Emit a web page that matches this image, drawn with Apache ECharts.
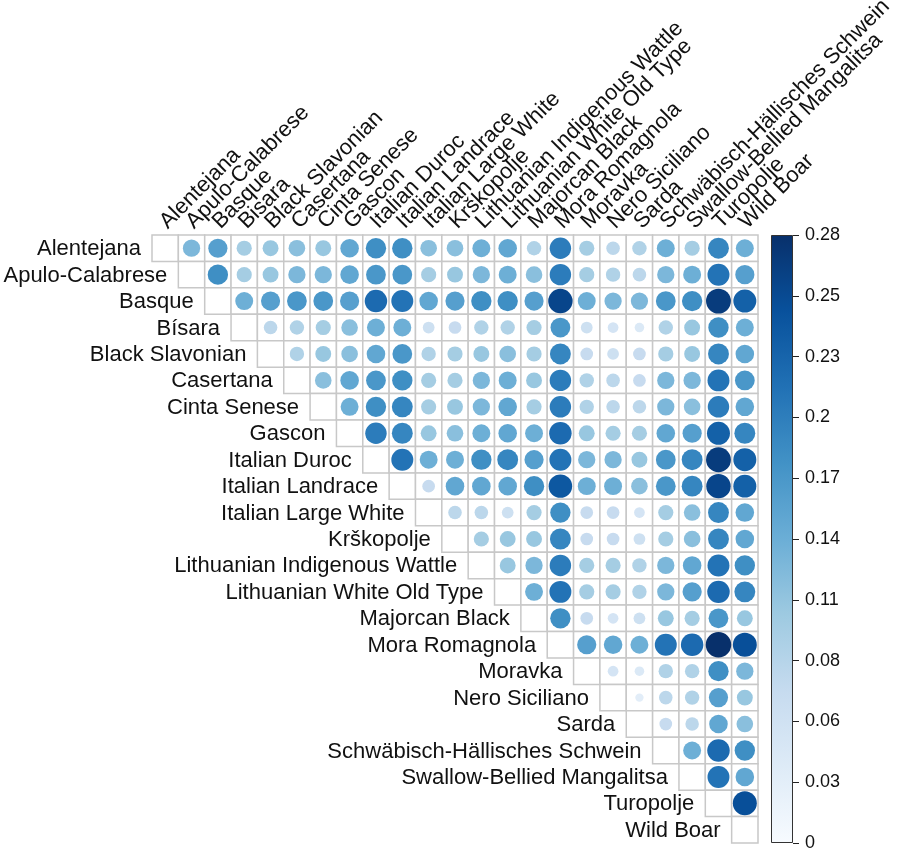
<!DOCTYPE html>
<html><head><meta charset="utf-8">
<script src="https://cdn.jsdelivr.net/npm/echarts@6/dist/echarts.min.js"></script>
<style>html,body{margin:0;padding:0;background:#fff}#c{width:898px;height:852px}</style>
</head><body><div id="c"></div>
<script>
const rowLabels = ['Alentejana','Apulo-Calabrese','Basque','Bísara','Black Slavonian','Casertana','Cinta Senese','Gascon','Italian Duroc','Italian Landrace','Italian Large White','Krs\u030Ckopolje','Lithuanian Indigenous Wattle','Lithuanian White Old Type','Majorcan Black','Mora Romagnola','Moravka','Nero Siciliano','Sarda','Schwäbisch-Hällisches Schwein','Swallow-Bellied Mangalitsa','Turopolje','Wild Boar'];
const colLabels = ['Alentejana','Apulo-Calabrese','Basque','Bisara','Black Slavonian','Casertana','Cinta Senese','Gascon','Italian Duroc','Italian Landrace','Italian Large White','Krs\u030Ckopolje','Lithuanian Indigenous Wattle','Lithuanian White Old Type','Majorcan Black','Mora Romagnola','Moravka','Nero Siciliano','Sarda','Schwäbisch-Hällisches Schwein','Swallow-Bellied Mangalitsa','Turopolje','Wild Boar'];

// upper triangle: each row lists values for columns to the right of the diagonal
const vAlentejana   = [0.13,0.16,0.10,0.11,0.12,0.11,0.15,0.18,0.18,0.12,0.12,0.14,0.15,0.09,0.20,0.10,0.08,0.09,0.14,0.10,0.19,0.14];
const vApulo        = [0.18,0.10,0.11,0.13,0.13,0.15,0.17,0.17,0.10,0.11,0.13,0.14,0.12,0.20,0.10,0.09,0.08,0.13,0.14,0.21,0.16];
const vBasque       = [0.14,0.16,0.17,0.17,0.16,0.22,0.21,0.15,0.16,0.18,0.18,0.16,0.26,0.14,0.13,0.13,0.17,0.18,0.27,0.23];
const vBisara       = [0.08,0.09,0.10,0.12,0.14,0.14,0.06,0.07,0.09,0.09,0.10,0.17,0.06,0.05,0.04,0.09,0.11,0.18,0.14];
const vBlackSlav    = [0.09,0.11,0.12,0.15,0.17,0.09,0.10,0.11,0.12,0.10,0.19,0.07,0.06,0.07,0.10,0.11,0.19,0.15];
const vCasertana    = [0.12,0.15,0.17,0.18,0.10,0.10,0.13,0.14,0.11,0.20,0.09,0.08,0.07,0.13,0.13,0.21,0.17];
const vCinta        = [0.14,0.18,0.19,0.10,0.11,0.13,0.15,0.10,0.20,0.09,0.08,0.08,0.13,0.12,0.20,0.15];
const vGascon       = [0.20,0.19,0.11,0.12,0.14,0.15,0.14,0.22,0.11,0.10,0.10,0.15,0.16,0.23,0.19];
const vDuroc        = [0.21,0.14,0.14,0.18,0.19,0.16,0.21,0.13,0.13,0.11,0.17,0.19,0.27,0.23];
const vLandrace     = [0.07,0.15,0.15,0.15,0.18,0.24,0.14,0.14,0.12,0.17,0.19,0.26,0.23];
const vLargeWhite   = [0.08,0.08,0.06,0.10,0.18,0.07,0.07,0.05,0.10,0.12,0.19,0.15];
const vKrskopolje   = [0.10,0.11,0.11,0.19,0.07,0.07,0.06,0.10,0.12,0.19,0.15];
const vLithWattle   = [0.11,0.13,0.20,0.10,0.10,0.09,0.13,0.15,0.21,0.18];
const vLithWhite    = [0.14,0.21,0.10,0.10,0.09,0.13,0.16,0.22,0.19];
const vMajorcan     = [0.18,0.07,0.05,0.06,0.11,0.10,0.17,0.11];
const vMora         = [0.16,0.15,0.14,0.21,0.22,0.283,0.25];
const vMoravka      = [0.05,0.04,0.09,0.09,0.18,0.13];
const vNero         = [0.03,0.08,0.09,0.16,0.11];
const vSarda        = [0.07,0.08,0.15,0.12];
const vSchwab       = [0.14,0.22,0.18];
const vSwallow      = [0.21,0.15];
const vTuropolje    = [0.25];
const rowValues = [vAlentejana,vApulo,vBasque,vBisara,vBlackSlav,vCasertana,vCinta,vGascon,vDuroc,vLandrace,vLargeWhite,vKrskopolje,vLithWattle,vLithWhite,vMajorcan,vMora,vMoravka,vNero,vSarda,vSchwab,vSwallow,vTuropolje,[]];

const cbTickLabels = ['0','0.03','0.06','0.08','0.11','0.14','0.17','0.2','0.23','0.25','0.28'];
const vMax = 0.283;
const blues = ['#F7FBFF','#DEEBF7','#C6DBEF','#9ECAE1','#6BAED6','#4292C6','#2171B5','#08519C','#08306B'];

const n = rowLabels.length;
const cells = [], dots = [], rowLab = [], colLab = [];
for (let i = 0; i < n; i++) {
  rowLab.push([i, i, rowLabels[i]]);
  colLab.push([i, 0, colLabels[i]]);
  for (let j = i; j < n; j++) {
    cells.push([j, i]);
    if (j > i) dots.push([j, i, rowValues[i][j - i - 1]]);
  }
}
const FONT = 'Liberation Sans, Arial, Helvetica, sans-serif';
const idx = rowLabels.map((_, k) => k);

const chart = echarts.init(document.getElementById('c'), null, {renderer: 'canvas'});
chart.setOption({
  animation: false,
  backgroundColor: '#fff',
  grid: [
    {left: 152, top: 235, width: 606, height: 608},
    {left: 771, top: 235, width: 22, height: 608}
  ],
  xAxis: [
    {type: 'category', data: idx, gridIndex: 0, show: false},
    {type: 'category', data: ['cb'], gridIndex: 1, show: false}
  ],
  yAxis: [
    {type: 'category', data: idx, gridIndex: 0, inverse: true, show: false},
    {type: 'value', gridIndex: 1, min: 0, max: vMax, interval: vMax / 10, position: 'right',
     axisLine: {show: false},
     axisTick: {show: true, length: 6, lineStyle: {color: '#222', width: 1}},
     splitLine: {show: false},
     axisLabel: {margin: 12, color: '#111', fontSize: 18, fontFamily: FONT,
       formatter: (v, k) => cbTickLabels[k] !== undefined ? cbTickLabels[k] : ''}}
  ],
  visualMap: {
    type: 'continuous', show: false, min: 0, max: vMax, dimension: 2, seriesIndex: 1,
    inRange: {color: blues}
  },
  series: [
    {
      type: 'custom', xAxisIndex: 0, yAxisIndex: 0, data: cells, silent: true,
      renderItem: (params, api) => {
        const c = api.coord([api.value(0), api.value(1)]);
        const s = api.size([1, 1]);
        return {type: 'rect', shape: {x: c[0] - s[0] / 2, y: c[1] - s[1] / 2, width: s[0], height: s[1]},
          style: {fill: '#fff', stroke: '#c8c8c8', lineWidth: 1.5}};
      }
    },
    {
      type: 'scatter', xAxisIndex: 0, yAxisIndex: 0, data: dots, silent: true,
      symbol: 'circle',
      symbolSize: v => 25.5 * Math.sqrt(Math.min(v[2], vMax) / vMax),
      itemStyle: {opacity: 1}
    },
    {
      type: 'custom', xAxisIndex: 0, yAxisIndex: 0, data: rowLab, silent: true,
      renderItem: (params, api) => {
        const c = api.coord([api.value(0), api.value(1)]);
        const s = api.size([1, 1]);
        return {type: 'text', x: c[0] - s[0] / 2 - 11, y: c[1] + 1,
          style: {text: rowLab[params.dataIndex][2], align: 'right', verticalAlign: 'middle',
            font: '22px ' + FONT, fill: '#111'}};
      }
    },
    {
      type: 'custom', xAxisIndex: 0, yAxisIndex: 0, data: colLab, silent: true,
      renderItem: (params, api) => {
        const c = api.coord([api.value(0), api.value(1)]);
        const s = api.size([1, 1]);
        return {type: 'text', x: c[0] + 6, y: c[1] - s[1] / 2 - 2, rotation: Math.PI / 4,
          style: {text: colLab[params.dataIndex][2], align: 'left', verticalAlign: 'bottom',
            font: '22px ' + FONT, fill: '#111'}};
      }
    },
    {
      type: 'bar', xAxisIndex: 1, yAxisIndex: 1, data: [vMax], barWidth: '100%', silent: true,
      itemStyle: {
        color: new echarts.graphic.LinearGradient(0, 1, 0, 0,
          blues.map((c, k) => ({offset: k / (blues.length - 1), color: c}))),
        borderColor: '#333', borderWidth: 1
      }
    }
  ]
});
</script></body></html>
